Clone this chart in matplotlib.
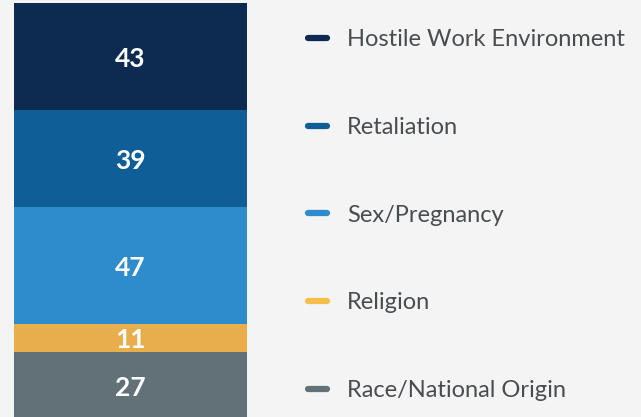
import matplotlib
matplotlib.use("Agg")
import matplotlib.pyplot as plt
from matplotlib.lines import Line2D

# data (bottom to top)
categories = ["Race/National Origin", "Religion", "Sex/Pregnancy", "Retaliation", "Hostile Work Environment"]
values = [27, 11, 47, 39, 43]
colors = ["#627078", "#e8ae4b", "#2e8bcc", "#0f5e98", "#0d2a50"]
legend_colors = ["#627078", "#f5be4a", "#2e8bcc", "#0f5e98", "#0d2a50"]

plt.rcParams["font.family"] = ["Lato", "DejaVu Sans"]
bg = "#f3f4f3"

W, H = 641, 417
fig = plt.figure(figsize=(W / 100, H / 100), dpi=100, facecolor=bg)

total = sum(values)
px_per_unit = 2.49
ax_h = total * px_per_unit
ax_top = 3
ax = fig.add_axes([14 / W, (H - ax_top - ax_h) / H, 233 / W, ax_h / H])
ax.set_facecolor(bg)

bottom = 0
for v, c in zip(values, colors):
    ax.bar(0, v, bottom=bottom, width=1.0, color=c, linewidth=0)
    ax.text(0, bottom + v / 2 - 1.0, str(v), ha="center", va="center",
            color="white", fontsize=19, fontweight="bold")
    bottom += v

ax.set_xlim(-0.5, 0.5)
ax.set_ylim(0, total)
ax.axis("off")

# legend, top to bottom
handles = [Line2D([0], [0], color=c, lw=4.5, solid_capstyle="round")
           for c in legend_colors[::-1]]
leg = fig.legend(handles, categories[::-1], loc="upper left",
                 bbox_to_anchor=(308 / W, 1 - 29 / H), frameon=False,
                 fontsize=17, handlelength=0.8, handletextpad=0.85,
                 labelspacing=2.83, borderaxespad=0, borderpad=0)
for t in leg.get_texts():
    t.set_color("#4a4d50")

fig.savefig("out.png", dpi=100, facecolor=bg)
